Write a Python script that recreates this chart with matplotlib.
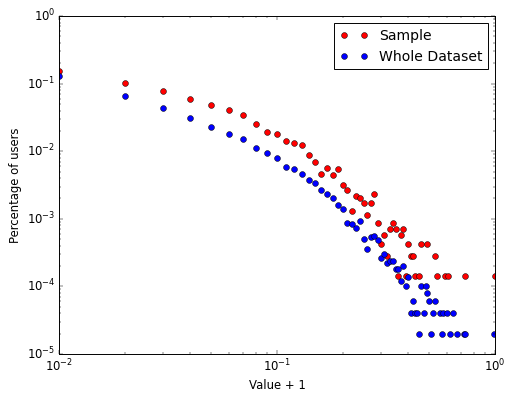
import matplotlib
matplotlib.use("Agg")
import matplotlib.pyplot as plt

plt.style.use("classic")

# Sample
sample_x = [0.01, 0.02, 0.03, 0.04, 0.05, 0.06, 0.07, 0.08, 0.09, 0.10,
            0.11, 0.12, 0.13, 0.14, 0.15, 0.16, 0.17, 0.18, 0.19, 0.20,
            0.21, 0.22, 0.23, 0.24, 0.25, 0.26, 0.27, 0.28, 0.29, 0.30,
            0.31, 0.32, 0.33, 0.34, 0.35, 0.36, 0.37, 0.38, 0.39, 0.40,
            0.41, 0.42, 0.43, 0.45, 0.46, 0.49, 0.53, 0.54, 0.59, 0.61,
            0.73, 1.00]
sample_y = [0.155, 0.101, 0.0785, 0.0592, 0.0478, 0.0403, 0.0347, 0.025, 0.019, 0.0182,
            0.0143, 0.0131, 0.0124, 0.0088, 0.0069, 0.0046, 0.00564, 0.0044, 0.00551, 0.00316,
            0.0027, 0.00129, 0.00215, 0.0020, 0.00172, 0.00114, 0.00172, 0.00229, 0.00086, 0.00043,
            0.00057, 0.000286, 0.000715, 0.00086, 0.000715, 0.000143, 0.00057, 0.000715, 0.000143, 0.00043,
            0.000286, 0.000286, 0.000143, 0.000143, 0.00043, 0.00043, 0.000286, 0.000143, 0.000143, 0.000143,
            0.000143, 0.000143]

# Whole Dataset
whole_x = [0.01, 0.02, 0.03, 0.04, 0.05, 0.06, 0.07, 0.08, 0.09, 0.10,
           0.11, 0.12, 0.13, 0.14, 0.15, 0.16, 0.17, 0.18, 0.19, 0.20,
           0.21, 0.22, 0.23, 0.24, 0.25, 0.26, 0.27, 0.28, 0.29, 0.30,
           0.31, 0.32, 0.33, 0.34, 0.35, 0.36, 0.37, 0.38, 0.39, 0.40,
           0.41, 0.42, 0.43, 0.44, 0.45, 0.46, 0.47, 0.48, 0.49, 0.50,
           0.51, 0.52, 0.53, 0.56, 0.57, 0.58, 0.60, 0.62, 0.64, 0.67,
           0.72, 0.73, 0.99]
whole_y = [0.131, 0.0662, 0.044, 0.031, 0.0226, 0.0182, 0.015, 0.0113, 0.0093, 0.00785,
           0.0059, 0.00546, 0.00465, 0.00371, 0.00339, 0.00267, 0.00233, 0.00203, 0.00162, 0.00141,
           0.00088, 0.00084, 0.00072, 0.00092, 0.0005, 0.00036, 0.00054, 0.00056, 0.00048, 0.00026,
           0.0003, 0.00022, 0.00024, 0.00024, 0.00018, 0.00018, 0.00012, 0.0002, 0.0001, 0.00014,
           0.00004, 0.00006, 0.00004, 0.00004, 0.00002, 0.0001, 0.00004, 0.0001, 0.00008, 0.00006,
           0.00002, 0.00004, 0.00006, 0.00004, 0.00002, 0.00004, 0.00004, 0.00002, 0.00004, 0.00002,
           0.00002, 0.00002, 0.00002]

fig = plt.figure(figsize=(505 / 70, 396 / 70), dpi=70, facecolor="white")
ax = fig.add_axes([59 / 505, 1 - 354 / 396, 436 / 505, 338 / 396])

ax.plot(sample_x, sample_y, "ro", label="Sample")
ax.plot(whole_x, whole_y, "bo", label="Whole Dataset")

ax.set_xscale("log")
ax.set_yscale("log")
ax.set_xlim(0.01, 1)
ax.set_ylim(1e-5, 1)
ax.set_xlabel("Value + 1")
ax.set_ylabel("Percentage of users")
ax.legend(loc="upper right")

fig.savefig("out.png", dpi=70, facecolor="white")
